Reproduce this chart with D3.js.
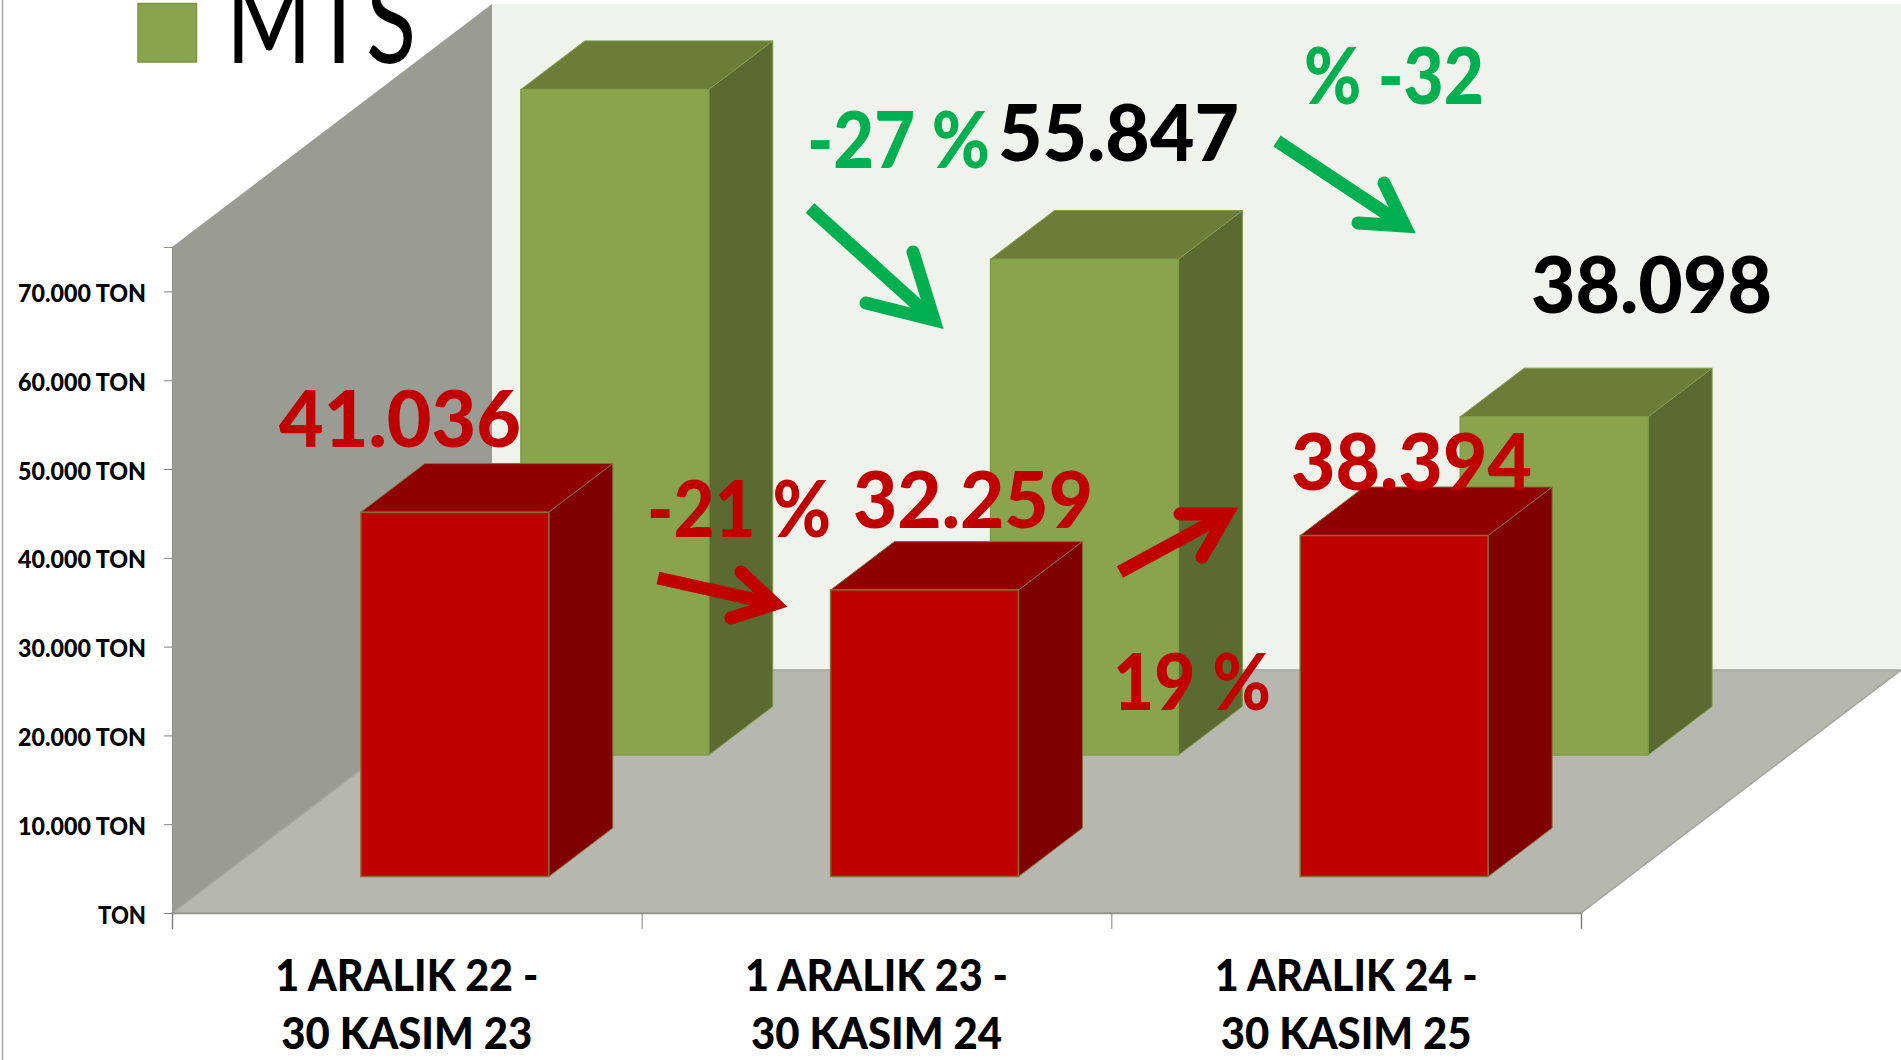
<!DOCTYPE html>
<html><head><meta charset="utf-8">
<style>html,body{margin:0;padding:0;background:#fff;overflow:hidden}svg{display:block}text{font-family:Lato,"Open Sans",sans-serif;font-weight:900}</style>
<script src="https://cdn.jsdelivr.net/npm/d3@7"></script></head><body>
<svg id="c" width="1901" height="1060"></svg>
<script>
// ---- data ----
const categories = [["1 ARALIK 22 -","30 KASIM 23"],["1 ARALIK 23 -","30 KASIM 24"],["1 ARALIK 24 -","30 KASIM 25"]];
const seriesNames = ["KIRMIZI","MTS"];
const redValues = [41036,32259,38394];
const mtsValues = [74950,55847,38098];
const yTicks = [0,10000,20000,30000,40000,50000,60000,70000];
const changeLabels = ["-21 %","19 %","-27 %","% -32"];

// ---- layout ----
const W=1901,H=1060, X0=172,X1=1581, Y0=913,YT=247, DX=320,DY=243, WALL_RIGHT=1901;
const svg=d3.select("#c");
const yMax=75000;
const y=d3.scaleLinear().domain([0,yMax]).range([Y0,YT]);
const catIdx=d3.range(categories.length);
const x=d3.scaleBand().domain(catIdx).range([X0,X1]).paddingInner(0.6).paddingOuter(0.3);
const z=d3.scaleBand().domain(seriesNames).range([0,1]).paddingInner(0.6).paddingOuter(0.3);
const edge=d3.scaleLinear().domain([0,categories.length]).range([X0,X1]);
const P=(px,v,d)=>[px+d*DX,y(v)-d*DY];
const poly=pts=>"M"+pts.map(p=>p.join(",")).join("L")+"Z";

// left border of the slide
svg.append("line").attr("x1",2.5).attr("x2",2.5).attr("y1",0).attr("y2",H).attr("stroke","#a6a6a6").attr("stroke-width",1.5);

// walls and floor
svg.append("path").attr("d",poly([P(X0,yMax,1),[WALL_RIGHT,y(yMax)-DY],[WALL_RIGHT,Y0-DY],P(X0,0,1)])).attr("fill","#f0f3ec");
svg.append("path").attr("d",poly([P(X0,yMax,0),P(X0,yMax,1),P(X0,0,1),P(X0,0,0)])).attr("fill","#9a9c94");
svg.append("path").attr("d",poly([P(X0,0,0),P(X1,0,0),P(X1,0,1),P(X0,0,1)])).attr("fill","#b6b8b0").attr("stroke","#a2a49d").attr("stroke-width",1.5);

// bars
const palettes={KIRMIZI:{front:"#c00000",side:"#7f0000",top:"#900000",edge:"#8a6a30"},
                MTS:{front:"#8aa44d",side:"#5a6a30",top:"#6c7d3a",edge:"#7f9c49"}};
function bars(name,vals){
  const c=palettes[name], z0=z(name), z1=z0+z.bandwidth(), g=svg.append("g");
  vals.forEach((v,i)=>{
    const a=x(i), b=a+x.bandwidth();
    g.append("path").attr("d",poly([P(b,0,z0),P(b,0,z1),P(b,v,z1),P(b,v,z0)])).attr("fill",c.side).attr("stroke",c.edge).attr("stroke-width",1);
    g.append("path").attr("d",poly([P(a,v,z0),P(b,v,z0),P(b,v,z1),P(a,v,z1)])).attr("fill",c.top).attr("stroke",c.edge).attr("stroke-width",1);
    g.append("path").attr("d",poly([P(a,0,z0),P(b,0,z0),P(b,v,z0),P(a,v,z0)])).attr("fill",c.front).attr("stroke",c.edge).attr("stroke-width",1.5);
  });
}
bars("MTS",mtsValues);
bars("KIRMIZI",redValues);

// axes
const num=d3.formatLocale({decimal:",",thousands:".",grouping:[3],currency:["",""]}).format(",d");
const gy=svg.append("g").attr("transform",`translate(${X0},0)`)
  .call(d3.axisLeft(y).tickValues(yTicks).tickSize(8).tickPadding(18).tickFormat(v=>v===0?"TON":num(v)+" TON"));
gy.select(".domain").attr("stroke","#8f918a");
gy.selectAll(".tick line").attr("stroke","#808080");
gy.selectAll("text").attr("dy",10).attr("fill","#000").style("font-size","25px")
  .attr("textLength",v=>v===0?48:128).attr("lengthAdjust","spacingAndGlyphs");
const gx=svg.append("g").attr("transform",`translate(0,${Y0})`)
  .call(d3.axisBottom(edge).tickValues(d3.range(categories.length+1)).tickSize(16).tickFormat(""));
gx.select(".domain").attr("stroke","#8f918a").attr("stroke-width",1.5);
gx.selectAll(".tick line").attr("stroke","#808080");

// category labels
const catW=[[263,251],[263,251],[263,251]];
categories.forEach((c,i)=>c.forEach((t,j)=>{
  svg.append("text").attr("x",x(i)+x.bandwidth()/2).attr("y",j?1049:991).attr("text-anchor","middle")
   .attr("fill","#000").style("font-size","43px").attr("textLength",catW[i][j]).attr("lengthAdjust","spacingAndGlyphs").text(t);
}));

// legend
svg.append("rect").attr("x",138).attr("y",3.5).attr("width",58.5).attr("height",58.5).attr("fill","#8aa44d").attr("stroke","#7a9445").attr("stroke-width",1.5);
svg.append("text").attr("x",226).attr("y",62.5).attr("fill","#000").style("font-size","122px").style("font-weight",400)
  .attr("textLength",190).attr("lengthAdjust","spacingAndGlyphs").text(seriesNames[1]);

// value and change labels
const RED="#c00000",GREEN="#00b050",BLACK="#000";
const big=(t,xx,yy,w,col)=>svg.append("text").attr("x",xx).attr("y",yy+1).attr("fill",col).style("font-size","78px")
  .attr("textLength",w).attr("lengthAdjust","spacingAndGlyphs").text(t);

// arrows
function arrow(tail,tip,b1,b2,col,w){
  const g=svg.append("g").attr("fill","none").attr("stroke",col);
  g.append("path").attr("d",`M${tail}L${tip}`).attr("stroke-width",w);
  g.append("path").attr("d",`M${b1}L${tip}L${b2}`).attr("stroke-width",w).attr("stroke-linecap","round").attr("stroke-linejoin","miter").attr("stroke-miterlimit",6);
}
arrow([810,208],[934,320],[913,252],[866,303],GREEN,13);
arrow([1277,141],[1405,226],[1384,183],[1358,223],GREEN,13);
arrow([658,578],[775,604],[741,572],[731,618],RED,13);
arrow([1120,572],[1227,514],[1180,514],[1202,557],RED,13);

big(num(redValues[0]),279,446,242,RED);
big(changeLabels[0],647,536,184,RED);
big(num(redValues[1]),853,527,240,RED);
big(num(redValues[2]),1291,489,241,RED);
big(changeLabels[1],1113,709,158,RED);
big(num(mtsValues[1]),998,160,241,BLACK);
big(num(mtsValues[2]),1531,312,241,BLACK);
big(changeLabels[2],807,167,183,GREEN);
big(changeLabels[3],1304,103,180,GREEN);
</script></body></html>
